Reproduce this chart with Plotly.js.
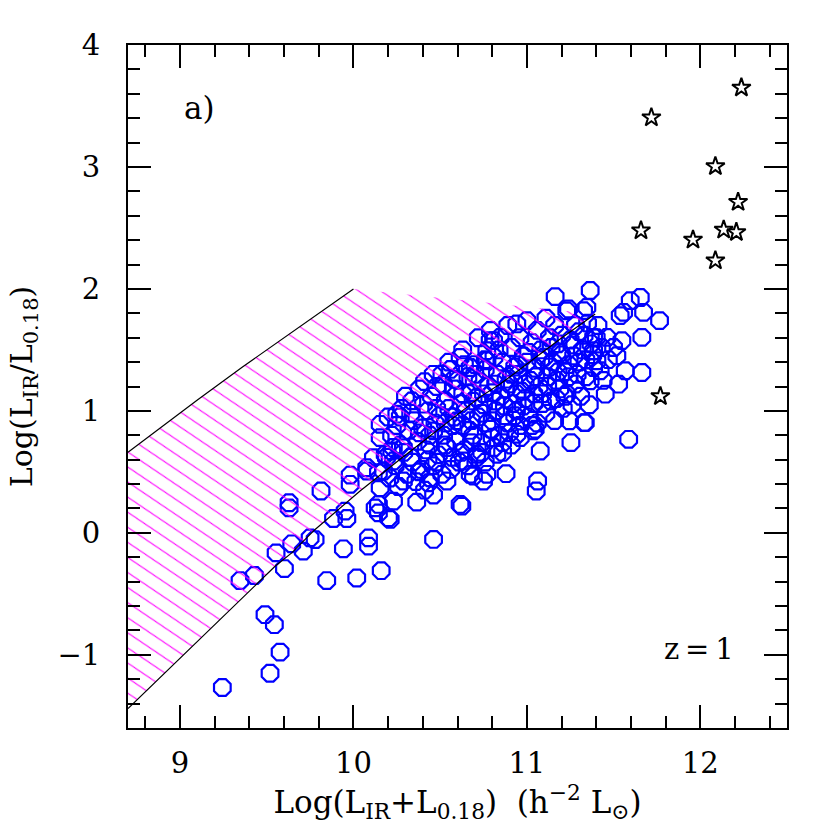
<!DOCTYPE html>
<html>
<head>
<meta charset="utf-8">
<script src="https://cdn.plot.ly/plotly-3.0.1.min.js"></script>
<style>html,body{margin:0;padding:0;background:#fff;}#chart{width:830px;height:830px;}</style>
</head>
<body>
<div id="chart"></div>
<script>
// Blue octagons: galaxies (x = Log(L_IR+L_0.18), y = Log(L_IR/L_0.18))
var galX = [
9.244,9.519,9.577,9.49,9.544,9.346,9.429,9.602,9.554,9.644,9.711,9.75,9.779,9.846,10.019,10.16,9.942,9.629,9.629,9.813,
9.885,9.952,9.962,9.981,9.981,10.087,10.087,10.077,10.144,10.125,10.144,10.202,10.221,10.183,10.462,10.625,10.365,10.462,10.212,11.077,
11.062,11.054,10.88,10.75,10.692,10.769,10.827,10.539,10.433,10.442,10.288,10.231,11.048,10.942,10.635,10.712,10.173,11.365,11.163,11.24,
11.327,11.254,11.331,11.246,10.962,11.038,11.231,11.365,11.404,11.192,11.0,10.942,10.846,10.788,10.77,11.654,11.596,11.558,11.538,11.673,
11.765,11.663,11.548,11.519,11.663,11.567,11.529,11.452,11.587,11.337,11.346,11.385,11.385,11.385,11.462,11.5,11.423,10.615,10.154,10.144,
10.154,10.154,10.25,10.337,10.404,10.51,10.615,10.519,10.462,10.288,10.231,10.077,10.115,10.673,10.596,10.712,10.673,10.769,10.808,
10.21,10.19,10.22,10.20,10.26,10.24,10.27,10.25,10.28,10.31,10.29,10.32,10.30,10.36,10.34,10.37,10.35,10.38,
10.41,10.39,10.42,10.40,10.43,10.41,10.46,10.44,10.47,10.45,10.46,10.51,10.49,10.52,10.50,10.53,10.55,
10.56,10.54,10.57,10.55,10.58,10.56,10.61,10.59,10.62,10.60,10.63,10.66,10.64,10.67,10.65,10.68,10.66,
10.71,10.69,10.72,10.73,10.70,10.72,10.76,10.74,10.77,10.75,10.78,10.76,10.79,10.81,10.79,10.82,10.80,10.83,10.81,
10.86,10.84,10.87,10.85,10.88,10.86,10.89,10.91,10.89,10.92,10.90,10.93,10.91,10.96,10.94,10.97,10.95,10.98,10.96,
11.01,10.99,11.02,11.00,11.03,11.06,11.04,11.07,11.05,11.08,11.06,11.11,11.09,11.12,11.10,11.13,11.11,
11.16,11.14,11.17,11.15,11.18,11.16,11.21,11.19,11.22,11.20,11.23,11.26,11.24,11.27,11.25,11.28,
11.31,11.29,11.32,11.30,11.36,11.34,11.37,11.35,11.44,11.47,11.41,
10.23,10.27,10.33,10.33,10.38,10.38,10.43,10.44,10.48,10.48,10.48,10.53,10.53,10.57,10.58,10.58,10.62,10.63,10.63,10.64,
10.68,10.68,10.69,10.70,10.74,10.74,10.75,10.76,10.80,10.80,10.82,10.82,10.84,10.86,10.87,10.88,10.90,10.91,10.93,10.94,
10.95,10.98,10.99,11.01,11.03,11.04,11.05,11.08,11.09,11.12,11.13,11.14,11.17,11.18,11.20,11.22,11.24,11.26,11.28,11.30,
11.33,11.34,11.38,11.40,11.43
];
var galY = [
-1.268,-1.151,-0.978,-0.671,-0.753,-0.391,-0.35,-0.293,-0.164,-0.09,-0.15,-0.041,-0.055,-0.391,-0.37,-0.31,-0.131,0.247,0.205,0.343,
0.118,0.178,0.118,0.474,0.398,-0.041,-0.109,0.534,0.493,0.205,0.164,0.123,0.671,0.644,-0.054,0.219,0.252,0.31,0.11,0.671,
0.425,0.343,0.485,0.425,0.466,0.48,0.644,0.425,0.411,0.452,0.425,0.26,0.85,0.808,0.589,0.644,0.507,1.987,1.937,1.836,
1.822,0.74,0.904,0.918,0.781,0.836,1.137,1.247,1.411,1.479,1.74,1.713,1.603,1.576,1.411,1.93,1.904,1.808,1.781,1.808,
1.74,1.603,1.576,1.452,1.315,1.329,1.219,1.137,0.767,0.904,1.849,1.603,1.493,1.356,1.603,1.52,1.329,0.233,0.37,0.233,
0.89,0.781,0.973,1.082,1.055,1.301,1.438,1.219,0.836,0.699,0.589,0.507,0.616,0.48,0.918,1.11,1.356,1.493,1.576,
0.45,0.62,0.80,0.95,0.38,0.55,0.72,0.88,1.02,0.48,0.66,0.84,1.12,0.42,0.58,0.75,0.92,1.18,
0.35,0.52,0.68,0.86,1.0,1.24,0.55,0.72,0.90,1.12,1.30,0.48,0.64,0.80,0.96,1.08,1.40,
0.52,0.70,0.88,1.02,1.18,1.34,0.58,0.75,1.06,1.25,1.50,0.55,0.68,0.84,1.00,1.15,1.28,
0.62,0.80,0.95,1.24,1.38,1.60,0.58,0.74,0.90,1.05,1.20,1.34,1.66,0.70,0.85,1.00,1.15,1.30,1.44,
0.66,0.80,0.96,1.12,1.26,1.40,1.70,0.72,0.90,1.06,1.22,1.36,1.52,0.88,1.00,1.16,1.30,1.45,1.60,
0.95,1.10,1.25,1.40,1.56,0.90,1.06,1.20,1.35,1.50,1.66,0.98,1.14,1.28,1.44,1.60,1.76,
0.92,1.08,1.25,1.40,1.55,1.70,1.02,1.18,1.32,1.62,1.82,1.05,1.28,1.45,1.58,1.70,
1.12,1.30,1.50,1.65,1.05,1.42,1.55,1.72,1.25,1.42,1.70,
0.70,0.95,0.62,0.98,0.50,0.82,0.60,0.80,0.58,1.02,1.20,0.72,0.90,0.62,0.95,1.26,0.66,0.88,1.14,1.38,
0.74,0.92,1.08,1.30,0.66,0.98,1.14,1.42,0.78,0.92,1.08,1.22,1.50,0.74,1.04,1.18,0.82,1.30,0.96,1.14,
1.38,1.04,1.22,1.48,0.88,1.14,1.28,1.42,1.06,1.20,1.36,1.52,1.10,1.32,1.46,1.12,1.38,1.54,1.22,1.40,
1.62,1.28,1.46,1.60,1.52
];
// Black stars
var starX = [12.237,11.718,12.087,12.218,11.658,11.958,12.135,12.208,12.087,11.77];
var starY = [3.65,3.405,3.005,2.712,2.479,2.403,2.485,2.465,2.233,1.12];
// Upper boundary curve
var upperX = [8.70,8.95,9.10,9.36,9.53,9.67,9.835,10.0];
var upperY = [0.66,0.93,1.09,1.36,1.53,1.67,1.83,2.0];
// Lower boundary curve
var lowerX = [8.70,9.202,9.548,9.644,9.779,10.038,10.269,10.731,10.846,11.192,11.394];
var lowerY = [-1.44,-0.748,-0.274,-0.164,0.028,0.343,0.603,1.115,1.22,1.59,1.795];

var polyX = upperX.concat(lowerX.slice().reverse());
var polyY = upperY.concat(lowerY.slice().reverse());

var serif = '"DejaVu Serif", "Liberation Serif", serif';

var traces = [
  {x: galX, y: galY, mode: 'markers', type: 'scatter',
   marker: {symbol: 'octagon-open', size: 18, color: '#0000ff', line: {width: 2.2, color: '#0000ff'}}},
  {x: polyX, y: polyY, mode: 'none', type: 'scatter', fill: 'toself',
   fillcolor: 'rgba(0,0,0,0)',
   fillpattern: {shape: '\\', fgcolor: '#ff00ff', bgcolor: 'rgba(0,0,0,0)', size: 12.5, solidity: 0.1}},
  {x: upperX, y: upperY, mode: 'lines', type: 'scatter', line: {color: '#000', width: 1.2}},
  {x: lowerX, y: lowerY, mode: 'lines', type: 'scatter', line: {color: '#000', width: 1.2}},
  {x: starX, y: starY, mode: 'markers', type: 'scatter',
   marker: {symbol: 'star-open', size: 14, color: '#000', line: {width: 2, color: '#000'}}}
];

var axisCommon = {
  showgrid: false, zeroline: false, showline: true, linecolor: '#000', linewidth: 2,
  mirror: 'ticks', ticks: 'inside', ticklen: 23, tickwidth: 2, tickcolor: '#000',
  tickfont: {family: serif, size: 29, color: '#000'},
  minor: {ticks: 'inside', ticklen: 12, tickwidth: 2, tickcolor: '#000', dtick: 0.2, showgrid: false}
};

var layout = {
  width: 830, height: 830,
  margin: {l: 128, r: 43, t: 45, b: 102},
  paper_bgcolor: '#fff', plot_bgcolor: '#fff',
  showlegend: false,
  xaxis: Object.assign({}, axisCommon, {
    range: [8.7, 12.5], tickmode: 'linear', tick0: 9, dtick: 1,
    ticklabelstandoff: 8,
    title: {text: 'Log(L<sub>IR</sub>+L<sub>0.18</sub>)\u00a0\u00a0(h<sup>\u22122</sup> L<sub>\u2299</sub>)',
            font: {family: serif, size: 31, color: '#000'}, standoff: 12}
  }),
  yaxis: Object.assign({}, axisCommon, {
    range: [-1.6, 4], tickmode: 'linear', tick0: 0, dtick: 1,
    ticklabelstandoff: 20,
    title: {text: 'Log(L<sub>IR</sub>/L<sub>0.18</sub>)',
            font: {family: serif, size: 30, color: '#000'}, standoff: 16}
  }),
  annotations: [
    {x: 9.11, y: 3.48, xref: 'x', yref: 'y', text: 'a)', showarrow: false,
     font: {family: serif, size: 31, color: '#000'}},
    {x: 11.995, y: -0.95, xref: 'x', yref: 'y', text: 'z\u2009=\u20091', showarrow: false,
     font: {family: serif, size: 29, color: '#000'}}
  ]
};

Plotly.newPlot('chart', traces, layout, {displayModeBar: false, staticPlot: true}).then(function () {
  var pats = document.querySelectorAll('#chart pattern');
  pats.forEach(function (p) {
    p.setAttribute('patternTransform', 'rotate(-11)');
    var ch = p.querySelectorAll('path');
    ch.forEach(function (c) { c.setAttribute('stroke-width', '1.1'); c.style.strokeWidth = '1.1px'; });
  });
});
</script>
</body>
</html>
